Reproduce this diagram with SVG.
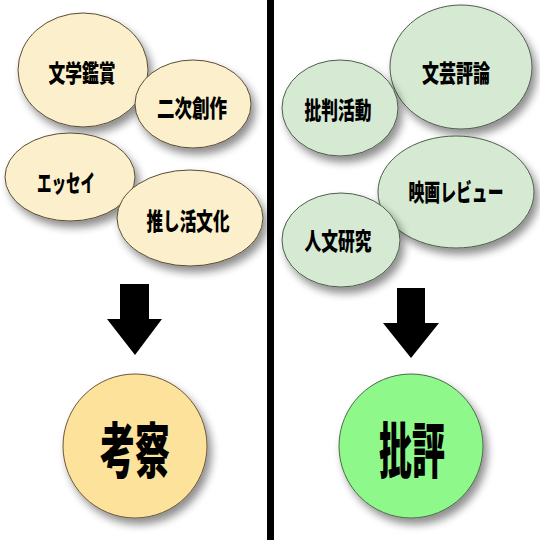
<svg xmlns="http://www.w3.org/2000/svg" width="540" height="540" viewBox="0 0 540 540">
<defs>
<filter id="sh" x="-30%" y="-30%" width="170%" height="170%">
<feGaussianBlur in="SourceAlpha" stdDeviation="4"/>
<feOffset dx="4" dy="6" result="b"/>
<feComponentTransfer><feFuncA type="linear" slope="0.45"/></feComponentTransfer>
<feMerge><feMergeNode/><feMergeNode in="SourceGraphic"/></feMerge>
</filter>
<style>
.y{fill:#fcf0cc;stroke:#5a4c34;stroke-width:1;filter:url(#sh)}
.g{fill:#d6ead3;stroke:#4d5e4b;stroke-width:1;filter:url(#sh)}
.cy{fill:#fde29b;stroke:#6a5838;stroke-width:1;filter:url(#sh)}
.cg{fill:#8ef98a;stroke:#4c6a48;stroke-width:1;filter:url(#sh)}
text{font-family:"Noto Sans CJK JP","Noto Sans CJK SC",sans-serif;font-weight:900;fill:#000;text-anchor:middle;dominant-baseline:central}
.s{font-size:24px}
.b{font-size:60px}
.arr{fill:#000}
</style>
</defs>
<rect width="540" height="540" fill="#fff"/>
<rect id="divider" x="267" y="0" width="7" height="540" fill="#000"/>
<g id="n-bungaku"><ellipse class="y" cx="83" cy="70" rx="65" ry="57"/><text class="s" x="82" y="71" textLength="67" lengthAdjust="spacingAndGlyphs">文学鑑賞</text></g>
<g id="n-niji"><ellipse class="y" cx="193" cy="104" rx="58" ry="44"/><text class="s" x="192" y="106" textLength="70" lengthAdjust="spacingAndGlyphs">二次創作</text></g>
<g id="n-essay"><ellipse class="y" cx="70" cy="177" rx="65" ry="44"/><text class="s" x="66" y="181" textLength="58" lengthAdjust="spacingAndGlyphs">エッセイ</text></g>
<g id="n-oshi"><ellipse class="y" cx="190" cy="218" rx="73" ry="48"/><text class="s" x="188" y="219" textLength="83" lengthAdjust="spacingAndGlyphs">推し活文化</text></g>
<g id="n-bungei"><ellipse class="g" cx="461" cy="67" rx="71" ry="62"/><text class="s" x="456" y="71" textLength="68" lengthAdjust="spacingAndGlyphs">文芸評論</text></g>
<g id="n-hihan"><ellipse class="g" cx="340" cy="108" rx="58" ry="48"/><text class="s" x="338" y="108" textLength="67" lengthAdjust="spacingAndGlyphs">批判活動</text></g>
<g id="n-eiga"><ellipse class="g" cx="456" cy="192" rx="78" ry="56"/><text class="s" transform="translate(456,190) scale(0.66,1)" x="0" y="0">映画レビュー</text></g>
<g id="n-jinbun"><ellipse class="g" cx="341" cy="240" rx="59" ry="47"/><text class="s" x="338" y="239" textLength="67" lengthAdjust="spacingAndGlyphs">人文研究</text></g>
<g id="connectors">
<polygon class="arr" points="120,284 149,284 149,319 162,319 135,355 107,319 120,319"/>
<polygon class="arr" points="397,288 425,288 425,323 439,323 411,358 383,323 397,323"/>
</g>
<g id="n-kousatsu"><circle class="cy" cx="135" cy="446" r="72"/><text class="b" x="135" y="446" textLength="70" lengthAdjust="spacingAndGlyphs">考察</text></g>
<g id="n-hihyou"><circle class="cg" cx="411" cy="446" r="72"/><text class="b" x="412" y="446" textLength="66" lengthAdjust="spacingAndGlyphs">批評</text></g>
</svg>
